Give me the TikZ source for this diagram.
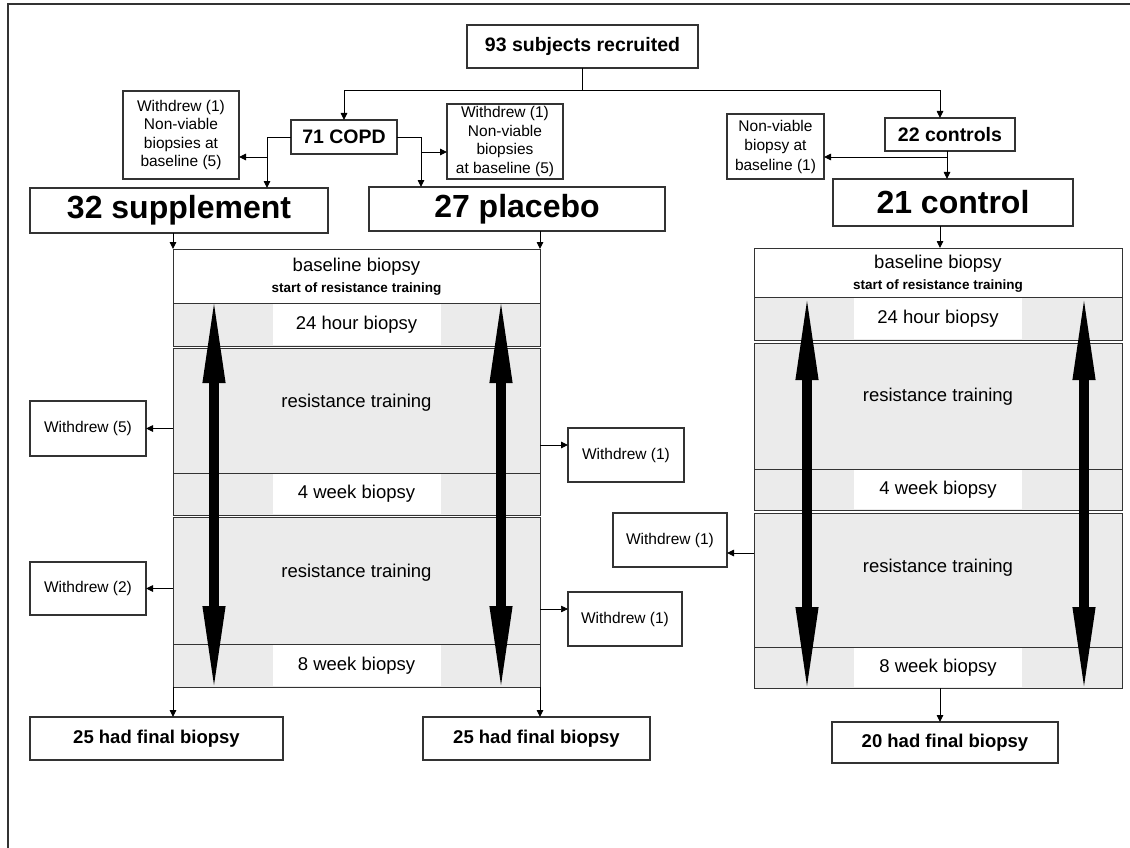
\documentclass[tikz,border=0pt]{standalone}
\usepackage{fontspec}
\setmainfont{Liberation Sans}
\usetikzlibrary{arrows.meta}
\definecolor{lc}{HTML}{333333}
\definecolor{gr}{HTML}{EBEBEB}
\newcommand{\fMed}{\fontsize{19.5}{22}\selectfont\bfseries}
\newcommand{\fBig}{\fontsize{32}{36}\selectfont\bfseries}
\newcommand{\fFin}{\fontsize{18.5}{21}\selectfont\bfseries}
\newcommand{\fWd}{\fontsize{15.5}{18.5}\selectfont}
\newcommand{\fSec}{\fontsize{18.5}{20}\selectfont}
\newcommand{\fSm}{\fontsize{13.5}{15}\selectfont\bfseries}
\begin{document}
\begin{tikzpicture}[x=1pt,y=-1pt,
  box/.style={draw=lc, line width=1.1pt, fill=white, inner sep=0pt, outer sep=0pt, align=center},
  sec/.style={draw=lc, line width=1pt, fill=gr, inner sep=0pt, outer sep=0pt, anchor=north west},
  win/.style={fill=white, inner sep=0pt, outer sep=0pt, minimum width=168pt, font=\fSec},
  arr/.style={draw=black, line width=0.9pt, -{Triangle[length=7pt,width=6.5pt]}},
  thinarr/.style={draw=black, line width=0.6pt, -{Triangle[length=7pt,width=6.5pt]}},
  big/.style={draw=black, line width=10pt, {Triangle[length=90pt,width=20pt]}-{Triangle[length=90pt,width=20pt]}},
  lbl/.style={inner sep=0pt, font=\fSec}]
\useasboundingbox (0,0) rectangle (1130,848);
\fill[white] (0,0) rectangle (1130,848);
\draw[lc, line width=1.2pt] (8,848) -- (8,4) -- (1130,4);

% top boxes
\node[box, minimum width=231pt, minimum height=43pt, font=\fMed] (rec) at (582.5,46.5) {93 subjects recruited};
\node[box, minimum width=106pt, minimum height=34pt, font=\fMed] (copd) at (344,137) {71 COPD};
\node[box, minimum width=130pt, minimum height=33pt, font=\fMed] (ctrls) at (950,134.5) {22 controls};
\node[box, minimum width=116pt, minimum height=88pt, font=\fWd] (wL) at (181,135) {Withdrew (1)\\Non-viable\\biopsies at\\baseline (5)};
\node[box, minimum width=116pt, minimum height=75pt, font=\fWd] (wR) at (505,141.5) {Withdrew (1)\\Non-viable\\biopsies\\at baseline (5)};
\node[box, minimum width=97pt, minimum height=65pt, font=\fontsize{15.5}{19.5}\selectfont] (nvC) at (775.5,146.5) {Non-viable\\biopsy at\\baseline (1)};
\node[box, minimum width=298pt, minimum height=45pt, font=\fBig] (supp) at (179,210.5) {32 supplement};
\node[box, minimum width=296pt, minimum height=44pt, font=\fBig] (plac) at (517,209) {27 placebo};
\node[box, minimum width=240pt, minimum height=47pt, font=\fBig] (ctrl) at (953,202.5) {21 control};

% left panel
\node[sec, fill=white, minimum width=367pt, minimum height=54pt] (lbase) at (173,249) {};
\node[sec, minimum width=367pt, minimum height=43pt] (l24) at (173,303) {};
\node[sec, minimum width=367pt, minimum height=125pt] (lrt1) at (173,348) {};
\node[sec, minimum width=367pt, minimum height=42pt] (lw4) at (173,473) {};
\node[sec, minimum width=367pt, minimum height=127pt] (lrt2) at (173,517) {};
\node[sec, minimum width=367pt, minimum height=43pt] (lw8) at (173,644) {};
\node[win, minimum height=41.5pt] at (l24.center) {24 hour biopsy};
\node[win, minimum height=40.5pt] at (lw4.center) {4 week biopsy};
\node[win, minimum height=41.5pt] at (lw8.center) {8 week biopsy};
\node[lbl, align=center] at (356.5,277) {baseline biopsy\\[1pt]{\fSm start of resistance training}};
\node[lbl] at (356.5,403) {resistance training};
\node[lbl] at (356.5,573) {resistance training};

% right panel
\node[sec, fill=white, minimum width=368pt, minimum height=49pt] (rbase) at (754,248) {};
\node[sec, minimum width=368pt, minimum height=43pt] (r24) at (754,297) {};
\node[sec, minimum width=368pt, minimum height=126pt] (rrt1) at (754,343) {};
\node[sec, minimum width=368pt, minimum height=41pt] (rw4) at (754,469) {};
\node[sec, minimum width=368pt, minimum height=134pt] (rrt2) at (754,513) {};
\node[sec, minimum width=368pt, minimum height=41pt] (rw8) at (754,647) {};
\node[win, minimum height=41.5pt] at (r24.center) {24 hour biopsy};
\node[win, minimum height=39.5pt] at (rw4.center) {4 week biopsy};
\node[win, minimum height=39.5pt] at (rw8.center) {8 week biopsy};
\node[lbl, align=center] at (938,274) {baseline biopsy\\[1pt]{\fSm start of resistance training}};
\node[lbl] at (938,397) {resistance training};
\node[lbl] at (938,568) {resistance training};

% big double arrows
\coordinate (la1) at (214,293); \coordinate (la2) at (214,696);
\coordinate (lb1) at (501,293); \coordinate (lb2) at (501,696);
\coordinate (ra1) at (807,290); \coordinate (ra2) at (807,697);
\coordinate (rb1) at (1084,290); \coordinate (rb2) at (1084,697);
\draw[big] (la1) -- (la2);
\draw[big] (lb1) -- (lb2);
\draw[big] (ra1) -- (ra2);
\draw[big] (rb1) -- (rb2);

% bottom boxes
\node[box, minimum width=253pt, minimum height=43pt, font=\fFin] (f1) at (156.5,738.5) {25 had final biopsy};
\node[box, minimum width=227pt, minimum height=43pt, font=\fFin] (f2) at (536.5,738.5) {25 had final biopsy};
\node[box, minimum width=226pt, minimum height=41pt, font=\fFin] (f3) at (945,742.5) {20 had final biopsy};

% side withdrew boxes
\node[box, minimum width=116pt, minimum height=55pt, font=\fWd] (wd5) at (88,428.5) {Withdrew (5)};
\node[box, minimum width=116pt, minimum height=53pt, font=\fWd] (wd2) at (88,588.5) {Withdrew (2)};
\node[box, minimum width=116pt, minimum height=54pt, font=\fWd] (wp1) at (626,455) {Withdrew (1)};
\node[box, minimum width=114pt, minimum height=54pt, font=\fWd] (wp2) at (625,619) {Withdrew (1)};
\node[box, minimum width=114pt, minimum height=54pt, font=\fWd] (wc1) at (670,540) {Withdrew (1)};

% connectors
\path (rec.south) ++(0,22) coordinate (jt);
\draw[black, line width=0.9pt] (rec.south) -- (jt);
\draw[arr] (jt) -| (copd.north);
\draw[arr] (jt) -| ([xshift=-10pt]ctrls.north);
\draw[arr] (copd.west) -| ([xshift=88pt]supp.north);
\coordinate (bL) at (267,157);
\draw[arr] (bL) -- (bL -| wL.east);
\draw[arr] (copd.east) -| ([xshift=-96pt]plac.north);
\coordinate (bR) at (421,152);
\draw[arr] (bR) -- (bR -| wR.west);
\draw[arr] ([xshift=-3pt]ctrls.south) -- ([xshift=-3pt]ctrls.south |- ctrl.north);
\coordinate (bC) at (947,157);
\draw[arr] (bC) -- (bC -| nvC.east);
\draw[arr] (supp.south -| lbase.north west) -- (lbase.north west);
\draw[arr] (plac.south -| lbase.north east) -- (lbase.north east);
\draw[arr] ([xshift=-13pt]ctrl.south) -- ([xshift=-13pt]ctrl.south |- rbase.north);
\draw[arr] (lw8.south west) -- (lw8.south west |- f1.north);
\draw[arr] (lw8.south east) -- (lw8.south east |- f2.north);
\draw[arr] ([xshift=2pt]rw8.south) -- ([xshift=2pt]rw8.south |- f3.north);
\draw[arr] (wd5.east -| lrt1.west) -- (wd5.east);
\draw[arr] (wd2.east -| lrt2.west) -- (wd2.east);
\draw[arr] ([yshift=10pt]wp1.west -| lrt1.east) -- ([yshift=10pt]wp1.west);
\draw[thinarr] ([yshift=10pt]wp2.west -| lrt2.east) -- ([yshift=10pt]wp2.west);
\draw[arr] ([yshift=-13pt]wc1.east -| rrt2.west) -- ([yshift=-13pt]wc1.east);
\end{tikzpicture}
\end{document}
